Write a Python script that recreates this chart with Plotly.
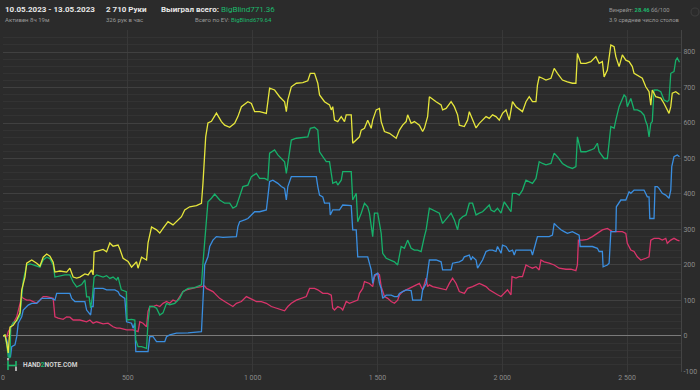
import plotly.graph_objects as go

# ---------------- data (hands played, big blinds) ----------------
ev_hands = [0, 8, 15, 21, 28, 41, 55, 68, 75, 88, 95, 115, 135, 148, 161, 175, 188, 201, 208, 228,
            255, 268, 281, 295, 308, 328, 341, 355, 361, 365, 381, 401, 415, 428, 441, 461, 468, 481,
            501, 515, 535, 541, 555, 575, 581, 595, 615, 628, 641, 661, 681, 695, 715, 728, 748, 775,
            795, 801, 812, 821, 835, 855, 875, 888, 908, 928, 941, 955, 981, 995, 1008, 1028, 1055,
            1068, 1088, 1108, 1128, 1135, 1141, 1155, 1175, 1201, 1221, 1231, 1248, 1261, 1268, 1288,
            1308, 1315, 1321, 1328, 1341, 1355, 1368, 1375, 1395, 1401, 1415, 1428, 1435, 1448, 1461,
            1475, 1481, 1495, 1508, 1515, 1528, 1548, 1575, 1588, 1601, 1615, 1621, 1635, 1648, 1668,
            1681, 1688, 1701, 1708, 1735, 1755, 1761, 1775, 1795, 1808, 1821, 1828, 1848, 1861, 1868,
            1881, 1895, 1908, 1921, 1935, 1948, 1961, 1975, 1988, 2001, 2015, 2028, 2041, 2055, 2081,
            2095, 2108, 2121, 2135, 2141, 2148, 2161, 2175, 2195, 2208, 2221, 2241, 2261, 2281, 2295,
            2301, 2315, 2335, 2355, 2368, 2375, 2388, 2401, 2408, 2421, 2435, 2448, 2455, 2468, 2481,
            2495, 2508, 2521, 2528, 2541, 2561, 2575, 2588, 2595, 2601, 2615, 2635, 2648, 2661, 2668,
            2675, 2681, 2695, 2710]
ev_values = [0, 3, -20, -48, 25, 30, 45, 65, 130, 166, 205, 214, 205, 197, 222, 231, 225, 208, 180, 183,
             180, 191, 166, 163, 166, 175, 172, 186, 172, 237, 240, 244, 237, 262, 253, 256, 245, 219,
             210, 194, 209, 191, 222, 214, 262, 307, 299, 290, 303, 322, 313, 322, 336, 355, 364, 367,
             374, 430, 561, 600, 605, 628, 604, 594, 588, 599, 618, 646, 660, 655, 632, 632, 627,
             698, 693, 674, 660, 632, 665, 702, 712, 714, 719, 740, 740, 712, 679, 660,
             651, 637, 646, 608, 604, 618, 604, 623, 623, 543, 552, 561, 580, 585, 608,
             585, 608, 637, 641, 604, 576, 571, 557, 580, 594, 604, 623, 599, 604, 594,
             576, 585, 618, 674, 660, 651, 637, 641, 660, 646, 623, 594, 590, 608, 632,
             608, 586, 599, 608, 618, 613, 623, 618, 608, 627, 637, 608, 660, 646, 632,
             660, 674, 660, 660, 707, 730, 726, 721, 726, 754, 740, 721, 716, 712, 712,
             796, 768, 768, 773, 782, 787, 768, 773, 730, 749, 820, 815, 787, 759, 792,
             777, 773, 759, 740, 735, 726, 702, 688, 650, 693, 674, 670, 655, 637, 627,
             646, 684, 688, 680]

won_hands = [0, 8, 15, 21, 28, 31, 41, 55, 68, 75, 81, 95, 108, 121, 135, 148, 161, 175, 188, 201,
             208, 228, 248, 268, 281, 295, 315, 328, 335, 345, 351, 358, 365, 375, 401, 415, 428, 441,
             455, 461, 468, 474, 494, 497, 515, 528, 532, 541, 555, 575, 581, 588, 601, 615, 628, 641,
             655, 668, 688, 708, 721, 741, 768, 795, 801, 808, 815, 821, 835, 848, 868, 888, 908, 921,
             935, 948, 961, 981, 995, 1015, 1028, 1048, 1061, 1068, 1088, 1101, 1115, 1128, 1135, 1141,
             1155, 1175, 1201, 1221, 1231, 1248, 1261, 1268, 1281, 1295, 1308, 1315, 1321, 1335, 1341,
             1355, 1361, 1375, 1395, 1401, 1415, 1421, 1435, 1448, 1461, 1468, 1481, 1488, 1501, 1515,
             1521, 1535, 1555, 1568, 1581, 1588, 1595, 1608, 1621, 1635, 1648, 1661, 1675, 1688, 1695,
             1708, 1721, 1735, 1748, 1761, 1781, 1795, 1808, 1821, 1828, 1841, 1855, 1868, 1881, 1888,
             1895, 1908, 1921, 1935, 1948, 1955, 1968, 1981, 1995, 2008, 2021, 2035, 2041, 2055, 2068,
             2081, 2095, 2108, 2121, 2135, 2148, 2161, 2175, 2195, 2208, 2221, 2241, 2261, 2281, 2295,
             2301, 2315, 2335, 2355, 2368, 2381, 2388, 2408, 2421, 2435, 2448, 2455, 2468, 2488, 2495,
             2501, 2515, 2528, 2541, 2555, 2568, 2575, 2581, 2588, 2595, 2601, 2608, 2621, 2635, 2648,
             2661, 2668, 2675, 2688, 2695, 2701, 2710]
won_values = [0, 3, -25, -59, -62, 25, 38, 42, 57, 110, 155, 200, 203, 200, 197, 194, 214, 222, 218, 200,
              166, 170, 172, 172, 152, 138, 145, 158, 110, 110, 79, 110, 166, 172, 166, 170, 162, 166,
              158, 166, 149, 130, 125, 45, 47, 45, -11, -30, -30, -35, 40, 83, 83, 78, 59, 65,
              92, 88, 92, 106, 125, 134, 136, 144, 205, 270, 336, 378, 388, 400, 383, 374, 374, 360,
              366, 397, 421, 425, 449, 458, 444, 444, 439, 515, 524, 510, 501, 491, 458, 491,
              552, 557, 560, 561, 585, 588, 580, 519, 505, 491, 491, 463, 430, 435, 425,
              439, 463, 463, 463, 383, 402, 322, 346, 374, 364, 346, 280, 346, 346, 289,
              233, 219, 214, 209, 200, 223, 252, 247, 270, 247, 242, 242, 238, 280, 299,
              360, 355, 350, 346, 317, 336, 346, 327, 299, 327, 336, 341, 374, 374, 360,
              341, 346, 350, 360, 369, 355, 350, 360, 346, 378, 365, 350, 402, 402, 397,
              411, 439, 434, 430, 444, 491, 486, 482, 486, 515, 505, 486, 477, 472, 477,
              561, 519, 519, 524, 528, 543, 519, 500, 500, 590, 585, 608, 646, 679, 674,
              646, 669, 637, 637, 632, 622, 604, 594, 561, 599, 604, 693, 693, 688, 665,
              660, 665, 740, 745, 777, 783, 771]

sd_hands = [0, 8, 15, 21, 25, 30, 35, 48, 55, 61, 68, 75, 81, 101, 115, 135, 155, 175, 195, 208,
            215, 235, 268, 275, 288, 308, 328, 335, 345, 351, 355, 361, 365, 381, 401, 415, 435, 448,
            461, 468, 488, 495, 515, 521, 528, 532, 548, 581, 588, 601, 615, 648, 655, 668, 695, 721,
            741, 795, 801, 808, 821, 828, 841, 855, 881, 908, 935, 941, 948, 968, 981, 995, 1008,
            1028, 1055, 1068, 1081, 1101, 1115, 1128, 1135, 1141, 1155, 1175, 1215, 1255, 1261, 1268,
            1281, 1288, 1308, 1311, 1321, 1348, 1361, 1395, 1401, 1415, 1421, 1461, 1475, 1481, 1488,
            1501, 1508, 1515, 1521, 1535, 1555, 1568, 1581, 1588, 1601, 1615, 1635, 1641, 1675, 1681,
            1695, 1708, 1735, 1755, 1761, 1795, 1801, 1828, 1841, 1848, 1868, 1875, 1881, 1895, 1901,
            1921, 1935, 1948, 1961, 1975, 1981, 1995, 2001, 2015, 2028, 2041, 2048, 2055, 2081, 2115,
            2121, 2141, 2161, 2188, 2201, 2208, 2221, 2235, 2248, 2261, 2281, 2295, 2308, 2312, 2335,
            2361, 2381, 2388, 2401, 2404, 2421, 2428, 2435, 2455, 2457, 2468, 2475, 2495, 2501, 2508,
            2515, 2528, 2548, 2568, 2581, 2588, 2591, 2608, 2612, 2621, 2628, 2641, 2655, 2668, 2675,
            2679, 2688, 2701, 2710]
sd_values = [0, 0, -11, -30, -58, -58, -30, -25, -2, 36, 45, 54, 73, 87, 92, 92, 106, 106, 106, 101,
             120, 120, 120, 106, 97, 97, 97, 73, 64, 59, 83, 83, 134, 134, 134, 130, 130, 130,
             125, 115, 106, 40, 36, 22, 36, -44, -44, -44, -2, -2, -16, -16, -2, 3, 8, 8,
             9, 12, 83, 200, 223, 252, 270, 280, 278, 278, 280, 308, 322, 327, 331, 341, 350,
             350, 355, 435, 439, 430, 421, 416, 383, 421, 449, 449, 449, 449, 421, 397,
             392, 374, 374, 341, 355, 355, 369, 367, 299, 299, 223, 223, 186, 148, 172,
             177, 148, 134, 106, 115, 115, 111, 111, 120, 125, 130, 128, 101, 101, 130,
             148, 214, 214, 209, 186, 186, 205, 209, 214, 223, 228, 214, 223, 214, 191,
             214, 238, 242, 242, 238, 252, 233, 256, 252, 238, 242, 228, 242, 242, 242,
             228, 280, 280, 280, 284, 317, 308, 299, 294, 289, 294, 289, 284, 252, 252,
             252, 247, 238, 238, 195, 200, 205, 294, 294, 364, 374, 383, 383, 392, 406,
             402, 411, 411, 411, 392, 392, 331, 331, 421, 421, 416, 402, 397, 388, 411,
             477, 505, 510, 505]

nsd_hands = [0, 8, 15, 21, 28, 41, 55, 61, 68, 75, 81, 95, 108, 121, 135, 148, 161, 175, 188, 201,
             208, 221, 241, 255, 268, 281, 308, 335, 348, 361, 375, 388, 401, 421, 441, 455, 468, 495,
             521, 541, 548, 561, 575, 581, 588, 601, 615, 628, 641, 655, 668, 681, 695, 708, 721, 735,
             755, 775, 795, 808, 815, 828, 841, 855, 868, 888, 908, 921, 935, 955, 975, 988, 1001,
             1015, 1035, 1055, 1075, 1095, 1115, 1128, 1141, 1155, 1175, 1195, 1215, 1228, 1248, 1261,
             1281, 1301, 1315, 1321, 1328, 1341, 1355, 1361, 1375, 1388, 1408, 1421, 1428, 1441, 1448,
             1468, 1481, 1488, 1501, 1508, 1515, 1528, 1541, 1555, 1568, 1581, 1588, 1601, 1615, 1628,
             1641, 1655, 1668, 1681, 1695, 1701, 1708, 1721, 1748, 1775, 1788, 1801, 1815, 1828, 1848,
             1861, 1881, 1908, 1921, 1935, 1948, 1968, 1981, 1995, 2008, 2021, 2035, 2039, 2055, 2068,
             2081, 2095, 2108, 2121, 2135, 2148, 2155, 2168, 2188, 2208, 2228, 2255, 2275, 2295, 2301,
             2305, 2321, 2341, 2361, 2381, 2401, 2421, 2441, 2461, 2481, 2495, 2501, 2515, 2528, 2541,
             2555, 2575, 2588, 2595, 2608, 2628, 2641, 2655, 2661, 2675, 2688, 2701, 2710]
nsd_values = [0, 0, -2, 12, 22, 36, 54, 69, 92, 111, 106, 101, 101, 97, 92, 101, 111, 111, 109, 106,
              54, 50, 47, 54, 53, 45, 45, 40, 45, 36, 40, 36, 34, 36, 26, 22, 22, 17,
              17, 12, 40, 36, 26, 69, 83, 83, 87, 83, 92, 97, 92, 101, 97, 111, 125, 130,
              134, 137, 139, 141, 134, 130, 125, 115, 106, 97, 87, 83, 92, 97, 111, 106, 101,
              97, 97, 92, 83, 78, 73, 71, 83, 92, 101, 106, 111, 134, 134, 130,
              120, 120, 115, 78, 73, 83, 78, 73, 97, 92, 97, 101, 120, 134, 153,
              148, 139, 167, 177, 172, 139, 111, 106, 97, 92, 101, 115, 125, 130, 134,
              139, 144, 148, 130, 163, 139, 144, 139, 134, 130, 148, 163, 148, 125, 120,
              134, 139, 148, 144, 139, 130, 120, 116, 111, 120, 130, 116, 167, 163, 167,
              167, 200, 195, 191, 195, 186, 214, 209, 205, 200, 191, 188, 188, 184, 200,
              270, 270, 272, 280, 289, 299, 303, 294, 294, 294, 289, 261, 242, 238, 223,
              214, 219, 223, 270, 275, 275, 270, 275, 261, 270, 275, 270, 268]

x_tick_vals = [0, 500, 1000, 1500, 2000, 2500]
x_tick_text = ["0", "500", "1 000", "1 500", "2 000", "2 500"]
y_tick_vals = [-100, 0, 100, 200, 300, 400, 500, 600, 700, 800]
y_tick_text = ["-100", "0", "100", "200", "300", "400", "500", "600", "700", "800"]

series = [
    ("Без вскрытия", nsd_hands, nsd_values, "#d8346a"),
    ("Со вскрытием", sd_hands, sd_values, "#3a8ee0"),
    ("Выигрыш", won_hands, won_values, "#17b06a"),
    ("EV", ev_hands, ev_values, "#e6e63c"),
]

# ---------------- layout geometry ----------------
W, H = 700, 390
L, R, T, B = 3, 19, 30, 18
PW, PH = W - L - R, H - T - B


def px(x):
    return (x - L) / PW


def py(y):
    return (H - B - y) / PH


fig = go.Figure()
for name, hx, vy, color in series:
    fig.add_trace(go.Scatter(x=hx, y=vy, mode="lines", name=name,
                             line=dict(color=color, width=1.3), hoverinfo="skip"))

BG = "#2b2b2b"
FONT = "Roboto, 'Noto Sans', sans-serif"
GREEN = "#1db86c"
WHITE = "#e8e8e8"
GRAY = "#9a9a9a"

fig.update_layout(
    width=W, height=H,
    margin=dict(l=L, r=R, t=T, b=B, autoexpand=False),
    paper_bgcolor=BG, plot_bgcolor=BG,
    showlegend=False,
    font=dict(family=FONT, color=GRAY, size=7),
    xaxis=dict(range=[0, 2716], tickvals=x_tick_vals, ticktext=x_tick_text,
               showgrid=True, gridcolor="#383838", gridwidth=1, zeroline=False,
               tickfont=dict(size=7, color="#8a8a8a"), ticks="", fixedrange=True,
               showline=False),
    yaxis=dict(range=[-101.5, 862], side="right", tickvals=y_tick_vals, ticktext=y_tick_text,
               showgrid=True, gridcolor="#404040", gridwidth=1,
               minor=dict(dtick=20, showgrid=True, gridcolor="#333333", gridwidth=1),
               zeroline=True, zerolinecolor="#7a7a7a", zerolinewidth=1.2,
               tickfont=dict(size=7, color="#8a8a8a"), ticks="",
               showline=True, linecolor="#444444", linewidth=1, fixedrange=True),
)


def ann(text, x, y, size, color, anchor="left", bold=False):
    if bold:
        text = "<b>" + text + "</b>"
    fig.add_annotation(text=text, x=px(x), y=py(y), xref="paper", yref="paper",
                       xanchor=anchor, yanchor="middle", showarrow=False,
                       font=dict(family=FONT, size=size, color=color))


g = lambda s: "<span style='color:%s'>%s</span>" % (GREEN, s)

ann("10.05.2023 - 13.05.2023", 3, 10, 8, WHITE, bold=True)
ann("Активен 8ч 19м", 3, 19.5, 6, GRAY)
ann("2 710 Руки", 104, 10, 8, WHITE, bold=True)
ann("326 рук в час", 104, 19.5, 6, GRAY)
ann("<b>Выиграл всего:</b> " + g("BigBlind771.36"), 159, 10, 8, WHITE)
ann("Всего по EV: " + g("BigBlind679.64"), 274, 19.5, 6, GRAY, anchor="right")
ann("Винрейт: " + g("<b>28.46</b>") + " бб/100", 607, 10, 5.8, GRAY)
ann("3.9 среднее число столов", 607, 19.5, 5.8, GRAY)
ann("<b>HAND" + g("2") + "NOTE.COM</b>", 21, 365, 6.5, "#d0d0d0")

# small logo mark next to the watermark
logo = [
    (8, 361, 8, 370, GREEN), (8, 365.5, 16, 365.5, GREEN), (16, 361, 16, 366, GREEN),
    (16, 366.5, 16, 371, "#d0d0d0"), (8, 358, 8, 360.5, "#d0d0d0"),
]
for x0, y0, x1, y1, c in logo:
    fig.add_shape(type="line", xref="paper", yref="paper",
                  x0=px(x0), y0=py(y0), x1=px(x1), y1=py(y1),
                  line=dict(color=c, width=1.6))

# faint settings icon at the top-right corner
fig.add_shape(type="circle", xref="paper", yref="paper",
              x0=px(691), y0=py(8), x1=px(699), y1=py(16),
              line=dict(color="#3c3c3c", width=1.2))

fig.write_html("out.html", config={"displayModeBar": False},
               post_script="document.body.style.margin='0';document.body.style.background='#2b2b2b';")
